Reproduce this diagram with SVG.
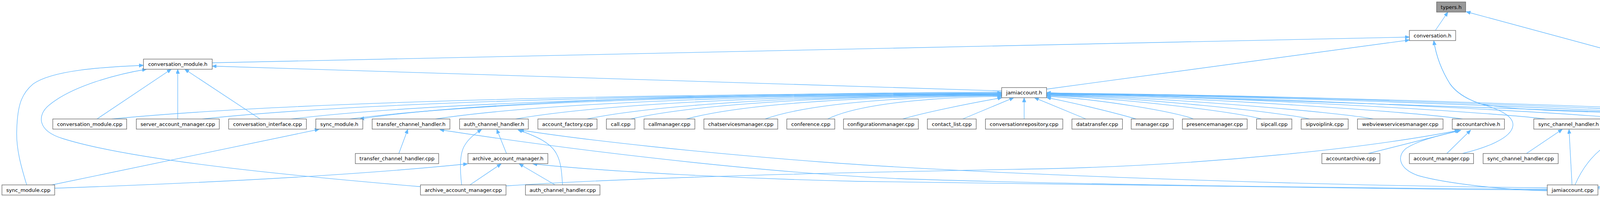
<svg xmlns="http://www.w3.org/2000/svg" width="4855" height="505" viewBox="0 0 4855 505">
<style>
.n rect{fill:#ffffff;stroke:#666666;stroke-width:1.33}
.c rect{fill:#999999;stroke:#666666;stroke-width:1.33}
text{font-family:"DejaVu Sans","Liberation Sans",sans-serif;font-size:13px;fill:#000000;text-anchor:middle}
.e path{fill:none;stroke:#63b8ff;stroke-width:1.33;marker-end:url(#a)}
</style>
<defs>
<marker id="a" markerUnits="userSpaceOnUse" markerWidth="12" markerHeight="10" refX="11" refY="4.5" orient="auto"><path d="M0,0 L11,4.5 L0,9 z" fill="#63b8ff" stroke="#63b8ff" stroke-width="1"/></marker>
</defs>
<rect width="4855" height="505" fill="#ffffff"/>
<g class="e" id="edges">
<path d="M3674.5,78 L3706.5,31"/>
<path d="M4770,305 L3753.5,30"/>
<path d="M543.3,161 L3608,95"/>
<path d="M2679.3,228.5 L3608,102.5"/>
<path d="M3744,393.5 C3800,380 3870,355 3873,322 C3876,295 3830,278 3790,266 C3760,256 3730,240 3712,215 C3690,180 3676,140 3670.5,104.5"/>
<path d="M4621,305 C4590,296 4480,292 4330,291 C4100,289 3880,285 3790,266 C3760,256 3730,240 3712,215 C3690,180 3676,140 3670.5,104.5"/>
<path d="M248.3,305 L438.3,177.5"/>
<path d="M455,305 L455,177.5"/>
<path d="M665.8,305 L473,177.5"/>
<path d="M68.3,474 C55,430 40,380 43,330 C45,270 55,240 85,215 C135,180 260,172 367,167.5"/>
<path d="M1076.4,478.5 C800,455 350,415 160,355 C95,335 95,295 125,270 C185,220 300,190 375,177.5"/>
<path d="M2564.3,233 L543.3,169.5"/>
<path d="M286,305 C513.8,283 1083.4,243 2564.3,238"/>
<path d="M518,305 C722.6,283 1234.2,244 2564.3,239"/>
<path d="M746,305 C927.8,283 1382.4,245 2564.3,240"/>
<path d="M895.5,305 C1062.4,283 1479.6,245.5 2564.3,240.5"/>
<path d="M2564.3,236 C1479.6,241 1062.4,283 921,305"/>
<path d="M1115,305 C1259.9,283 1622.3,246 2564.3,241"/>
<path d="M1320.2,305 C1444.6,283 1755.6,246.5 2564.3,241.5"/>
<path d="M1502.7,305 C1608.9,283 1874.3,247 2564.3,242"/>
<path d="M1614.6,305 C1709.6,283 1947,248 2564.3,243"/>
<path d="M1757.2,305 C1837.9,283 2039.7,249 2564.3,244"/>
<path d="M1958.7,305 C2019.3,283 2170.7,250 2564.3,245"/>
<path d="M2118.8,305 C2163.4,283 2274.7,252 2564.3,247"/>
<path d="M2311,305 C2360,290 2480,265 2565,250.5"/>
<path d="M2464.5,305 L2595,250.5"/>
<path d="M2621.8,305 L2621.8,250.5"/>
<path d="M2780,305 L2648.3,250.5"/>
<path d="M2908.5,305 C2840,285 2740,262 2679.3,250"/>
<path d="M3055,305 C3017.4,288 2810.8,253 2679.3,247"/>
<path d="M3229,305 C3174,288 2871.7,251 2679.3,245"/>
<path d="M3352,305 C3284.7,288 2914.7,249.5 2679.3,243.5"/>
<path d="M3515.5,305 C3431.9,288 2972,248.5 2679.3,242.5"/>
<path d="M3744,305 C3637.5,288 3051.9,247.5 2679.3,241.5"/>
<path d="M3957,305 C3829.2,288 3126.5,246.5 2679.3,240.5"/>
<path d="M4168,305 C4019.1,288 3200.3,246 2679.3,240"/>
<path d="M4409,300 C4236,286 3284.7,245.5 2679.3,239.5"/>
<path d="M4621,305 C4426.8,288 3358.9,245 2679.3,239"/>
<path d="M4763,305 C4554.6,288 3408.6,244.5 2679.3,238.5"/>
<path d="M4090.7,481 C4300,455 4385,420 4377,362 C4370,312 4350,298 4300,293 C3700,272 3100,248 2679.3,237.5"/>
<path d="M132.7,474 L816.8,331.5"/>
<path d="M140,482.5 C500,470 900,450 1197,420"/>
<path d="M1021,393.5 L1044,331.5"/>
<path d="M1296.6,393.5 L1271.7,331.5"/>
<path d="M1203,474 L1283,420"/>
<path d="M1181.8,474 C1178,440 1175,395 1190,372 C1200,355 1215,343 1233,332"/>
<path d="M1421,474 L1329,420"/>
<path d="M1440,474 C1438,440 1436,415 1425,395 C1410,365 1370,348 1326,333"/>
<path d="M3961,485 C3400,482 2700,472 2300,458 C1900,440 1400,375 1126,332.5"/>
<path d="M3961,481.5 C3300,475 2500,445 2100,415 C1800,392 1500,360 1330,333"/>
<path d="M3961,487 C3300,484 2600,472 2200,465 C1900,458 1550,440 1364,420"/>
<path d="M1295.5,476.5 C1700,450 2300,440 2700,432 C3100,422 3500,380 3735,334"/>
<path d="M3961,489 C3850,487 3700,470 3630,450 C3580,432 3575,400 3600,380 C3640,355 3700,345 3738,334"/>
<path d="M3502.8,393.5 L3740,333.5"/>
<path d="M3703.8,393.5 L3765,333.5"/>
<path d="M3907.7,393.5 L3999.5,331.5"/>
<path d="M4024.4,474 L4016.7,331.5"/>
<path d="M4032,474 C4055,420 4090,385 4120,368 C4150,350 4175,340 4198.5,331.5"/>
<path d="M4225.3,393.5 L4229,331.5"/>
<path d="M4492.6,386.5 L4492.6,339"/>
<path d="M4090.7,484 C4300,468 4520,448 4570,432 C4615,415 4615,380 4531,340.5"/>
<path d="M4711.7,393.5 L4551,339.5"/>
<path d="M4745.8,474 L4745.8,419.5"/>
<path d="M4090.7,479 C4300,462 4550,440 4680,420"/>
</g>
<g id="n_typers_h" class="c"><rect x="3677.7" y="5" width="74.4" height="26"/><text x="3714.9" y="22.7">typers.h</text></g>
<g id="n_conversation_h" class="n"><rect x="3608" y="78" width="118.5" height="26"/><text x="3667.25" y="95.7">conversation.h</text></g>
<g id="n_conversation_module_h" class="n"><rect x="367.3" y="151.5" width="176" height="26"/><text x="455.3" y="169.2">conversation_module.h</text></g>
<g id="n_jamiaccount_h" class="n"><rect x="2564.3" y="224.5" width="115" height="26"/><text x="2621.8" y="242.2">jamiaccount.h</text></g>
<g id="n_conversation_module_cpp" class="n"><rect x="135.2" y="305" width="189.1" height="26"/><text x="229.75" y="322.7">conversation_module.cpp</text></g>
<g id="n_server_account_manager_cpp" class="n"><rect x="349" y="305" width="212.4" height="26"/><text x="455.2" y="322.7">server_account_manager.cpp</text></g>
<g id="n_conversation_interface_cpp" class="n"><rect x="585.4" y="305" width="199" height="26"/><text x="684.9" y="322.7">conversation_interface.cpp</text></g>
<g id="n_sync_module_h" class="n"><rect x="808.5" y="305" width="120.2" height="26"/><text x="868.6" y="322.7">sync_module.h</text></g>
<g id="n_transfer_channel_handler_h" class="n"><rect x="952.7" y="305" width="199" height="26"/><text x="1052.2" y="322.7">transfer_channel_handler.h</text></g>
<g id="n_auth_channel_handler_h" class="n"><rect x="1176.5" y="305" width="176" height="26"/><text x="1264.5" y="322.7">auth_channel_handler.h</text></g>
<g id="n_account_factory_cpp" class="n"><rect x="1377" y="305" width="151.4" height="26"/><text x="1452.7" y="322.7">account_factory.cpp</text></g>
<g id="n_call_cpp" class="n"><rect x="1552.4" y="305" width="73" height="26"/><text x="1588.9" y="322.7">call.cpp</text></g>
<g id="n_callmanager_cpp" class="n"><rect x="1648.6" y="305" width="130.2" height="26"/><text x="1713.7" y="322.7">callmanager.cpp</text></g>
<g id="n_chatservicesmanager_cpp" class="n"><rect x="1802" y="305" width="189" height="26"/><text x="1896.5" y="322.7">chatservicesmanager.cpp</text></g>
<g id="n_conference_cpp" class="n"><rect x="2014.3" y="305" width="122.7" height="26"/><text x="2075.65" y="322.7">conference.cpp</text></g>
<g id="n_configurationmanager_cpp" class="n"><rect x="2159.4" y="305" width="191.6" height="26"/><text x="2255.2" y="322.7">configurationmanager.cpp</text></g>
<g id="n_contact_list_cpp" class="n"><rect x="2374.1" y="305" width="125" height="26"/><text x="2436.6" y="322.7">contact_list.cpp</text></g>
<g id="n_conversationrepository_cpp" class="n"><rect x="2522.7" y="305" width="198" height="26"/><text x="2621.7" y="322.7">conversationrepository.cpp</text></g>
<g id="n_datatransfer_cpp" class="n"><rect x="2744.2" y="305" width="129.3" height="26"/><text x="2808.85" y="322.7">datatransfer.cpp</text></g>
<g id="n_manager_cpp" class="n"><rect x="2895.9" y="305" width="107.7" height="26"/><text x="2949.75" y="322.7">manager.cpp</text></g>
<g id="n_presencemanager_cpp" class="n"><rect x="3026.9" y="305" width="165.8" height="26"/><text x="3109.8" y="322.7">presencemanager.cpp</text></g>
<g id="n_sipcall_cpp" class="n"><rect x="3216.8" y="305" width="90.3" height="26"/><text x="3261.95" y="322.7">sipcall.cpp</text></g>
<g id="n_sipvoiplink_cpp" class="n"><rect x="3331" y="305" width="120.4" height="26"/><text x="3391.2" y="322.7">sipvoiplink.cpp</text></g>
<g id="n_webviewservicesmanager_cpp" class="n"><rect x="3475.2" y="305" width="219" height="26"/><text x="3584.7" y="322.7">webviewservicesmanager.cpp</text></g>
<g id="n_accountarchive_h" class="n"><rect x="3717.7" y="305" width="133.7" height="26"/><text x="3784.55" y="322.7">accountarchive.h</text></g>
<g id="n_sync_channel_handler_h" class="n"><rect x="3926.5" y="305" width="178" height="26"/><text x="4015.5" y="322.7">sync_channel_handler.h</text></g>
<g id="n_message_channel_handler_h" class="n"><rect x="4127.5" y="305" width="207.5" height="26"/><text x="4231.25" y="322.7">message_channel_handler.h</text></g>
<g id="n_conversation_channel_handler_h" class="n"><rect x="4410.5" y="298.5" width="164.3" height="40.5"/><text x="4492.65" y="315.5">conversation_channel</text><text x="4492.65" y="330">_handler.h</text></g>
<g id="n_conversation_cpp" class="n"><rect x="4599" y="305" width="133.8" height="26"/><text x="4665.9" y="322.7">conversation.cpp</text></g>
<g id="n_typers_cpp" class="n"><rect x="4756.5" y="305" width="90.8" height="26"/><text x="4801.9" y="322.7">typers.cpp</text></g>
<g id="n_transfer_channel_handler_cpp" class="n"><rect x="909.6" y="393.5" width="213.4" height="26"/><text x="1016.3" y="411.2">transfer_channel_handler.cpp</text></g>
<g id="n_archive_account_manager_h" class="n"><rect x="1198" y="393.5" width="204.5" height="26"/><text x="1300.25" y="411.2">archive_account_manager.h</text></g>
<g id="n_accountarchive_cpp" class="n"><rect x="3384" y="393.5" width="148.5" height="26"/><text x="3458.25" y="411.2">accountarchive.cpp</text></g>
<g id="n_account_manager_cpp" class="n"><rect x="3608" y="393.5" width="164.3" height="26"/><text x="3690.15" y="411.2">account_manager.cpp</text></g>
<g id="n_sync_channel_handler_cpp" class="n"><rect x="3796.7" y="393.5" width="192.3" height="26"/><text x="3892.85" y="411.2">sync_channel_handler.cpp</text></g>
<g id="n_message_channel_handler_cpp" class="n"><rect x="4113.4" y="393.5" width="221.6" height="26"/><text x="4224.2" y="411.2">message_channel_handler.cpp</text></g>
<g id="n_conversation_channel_handler_cpp" class="n"><rect x="4410.5" y="387" width="164.3" height="40.5"/><text x="4492.65" y="404">conversation_channel</text><text x="4492.65" y="418.5">_handler.cpp</text></g>
<g id="n_swarm_channel_handler_h" class="n"><rect x="4650.8" y="393.5" width="190.8" height="26"/><text x="4746.2" y="411.2">swarm_channel_handler.h</text></g>
<g id="n_sync_module_cpp" class="n"><rect x="5" y="474" width="135" height="26"/><text x="72.5" y="491.7">sync_module.cpp</text></g>
<g id="n_archive_account_manager_cpp" class="n"><rect x="1076.4" y="474" width="219" height="26"/><text x="1185.9" y="491.7">archive_account_manager.cpp</text></g>
<g id="n_auth_channel_handler_cpp" class="n"><rect x="1345.2" y="474" width="190.6" height="26"/><text x="1440.5" y="491.7">auth_channel_handler.cpp</text></g>
<g id="n_jamiaccount_cpp" class="n"><rect x="3961" y="474" width="129.7" height="26"/><text x="4025.85" y="491.7">jamiaccount.cpp</text></g>
<g id="n_swarm_channel_handler_cpp" class="n"><rect x="4642.5" y="474" width="206.5" height="26"/><text x="4745.75" y="491.7">swarm_channel_handler.cpp</text></g>
</svg>
